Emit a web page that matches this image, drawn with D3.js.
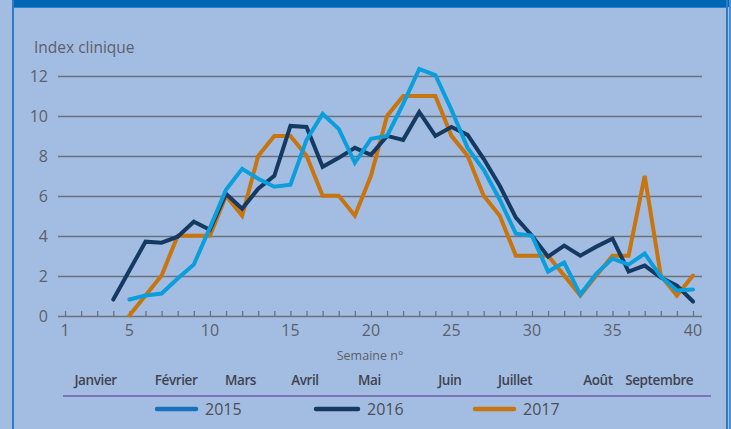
<!DOCTYPE html>
<html>
<head>
<meta charset="utf-8">
<script src="https://cdn.jsdelivr.net/npm/d3@7"></script>
<style>
    body { margin: 0; background: #a3bde2; }
    svg { display: block; font-family: "Open Sans", "Noto Sans", sans-serif; }
</style>
</head>
<body>
<div id="chart"></div>
<script>

// semaines 1 a 40, null = pas de donnee
var weeks = d3.range(1, 41);
var yTicks = [0, 2, 4, 6, 8, 10, 12];
var xTickLabels = [1, 5, 10, 15, 20, 25, 30, 35, 40];

var months = ["Janvier", "Février", "Mars", "Avril", "Mai", "Juin", "Juillet", "Août", "Septembre"];
var monthWeeks = [2.9, 7.9, 11.9, 15.9, 19.9, 24.9, 28.95, 34.1, 37.9];

var years = ["2015", "2016", "2017"];

var values2015 = [null, null, null, null,
    0.8, 1.0, 1.1, 1.85, 2.55, 4.4, 6.3, 7.35, 6.85, 6.45, 6.55, 8.8, 10.1, 9.35, 7.65, 8.85,
    9.0, 10.6, 12.35, 12.05, 10.3, 8.4, 7.3, 5.8, 4.1, 4.0, 2.2, 2.65, 1.05, 2.1, 2.85, 2.55,
    3.1, 1.95, 1.25, 1.3];
var values2016 = [null, null, null,
    0.8, 2.25, 3.7, 3.65, 3.95, 4.7, 4.3, 6.1, 5.35, 6.35, 7.0, 9.5, 9.45, 7.45, 7.9, 8.4, 8.05,
    9.0, 8.8, 10.2, 9.0, 9.45, 9.05, 7.85, 6.5, 4.9, 4.0, 2.95, 3.5, 3.0, 3.45, 3.85, 2.2,
    2.5, 1.9, 1.5, 0.7];
var values2017 = [null, null, null, null,
    0, 1, 2, 4, 4, 4, 6, 5, 8, 9, 9, 8, 6, 6, 5, 7,
    10, 11, 11, 11, 9, 8, 6, 5, 3, 3, 3, 2, 1, 2, 3, 3,
    7, 2, 1, 2];

var lineColors = {"2015": "#0b9edb", "2016": "#143a63", "2017": "#c8740f"};
var legendColors = {"2015": "#1a71bb", "2016": "#143a63", "2017": "#c8740f"};

var series = [
    {year: "2017", values: values2017},
    {year: "2016", values: values2016},
    {year: "2015", values: values2015}
];

var W = 731, H = 429;
var textGrey = "#5c606b";

var svg = d3.select("#chart").append("svg")
    .attr("width", W)
    .attr("height", H);

// cadre
svg.append("rect").attr("x", 0).attr("y", 0).attr("width", W).attr("height", H).attr("fill", "#a3bde2");
svg.append("rect").attr("x", 13).attr("y", 0).attr("width", 716).attr("height", 7).attr("fill", "#0067b4");
svg.append("line").attr("x1", 13).attr("x2", 728).attr("y1", 7.5).attr("y2", 7.5)
    .style("stroke", "#2f80cb").style("stroke-width", 1);
svg.append("line").attr("x1", 13).attr("x2", 13).attr("y1", 0).attr("y2", H)
    .style("stroke", "#2b7cc6").style("stroke-width", 2);
svg.append("line").attr("x1", 727).attr("x2", 727).attr("y1", 0).attr("y2", H)
    .style("stroke", "#2b7cc6").style("stroke-width", 2);
svg.append("rect").attr("x", 729).attr("y", 0).attr("width", 2).attr("height", H).attr("fill", "#4d8fd1");

var x = d3.scaleLinear()
    .domain([1, 40])
    .range([65, 693]);

var y = d3.scaleLinear()
    .domain([0, 12])
    .range([315.5, 76]);

var plotLeft = 58, plotRight = 702;

// grille
svg.append("g")
    .selectAll("line")
    .data(yTicks.filter(function (d) { return d > 0; }))
    .enter().append("line")
    .attr("x1", plotLeft)
    .attr("x2", plotRight)
    .attr("y1", function (d) { return Math.round(y(d)) + 0.5; })
    .attr("y2", function (d) { return Math.round(y(d)) + 0.5; })
    .style("stroke", "#6c717b")
    .style("stroke-width", 1.3);

svg.append("g")
    .selectAll("text")
    .data(yTicks)
    .enter().append("text")
    .attr("x", 48)
    .attr("y", function (d) { return y(d) + 6; })
    .attr("text-anchor", "end")
    .attr("fill", textGrey)
    .style("font-size", "16px")
    .text(function (d) { return d; });

svg.append("text")
    .attr("x", 34)
    .attr("y", 53)
    .attr("fill", textGrey)
    .style("font-size", "15.5px")
    .text("Index clinique");

// axe des semaines
var xAxis = d3.axisBottom(x)
    .tickValues(weeks)
    .tickSize(-5)
    .tickFormat("");

var gx = svg.append("g")
    .attr("transform", "translate(0," + Math.round(y(0)) + ")")
    .call(xAxis);
gx.select(".domain").remove();
gx.selectAll(".tick line").style("stroke", "#6c717b").style("stroke-width", 1.3);
gx.append("line")
    .attr("x1", plotLeft)
    .attr("x2", plotRight)
    .attr("y1", 0.5)
    .attr("y2", 0.5)
    .style("stroke", "#6c717b")
    .style("stroke-width", 1.5);

svg.append("g")
    .selectAll("text")
    .data(xTickLabels)
    .enter().append("text")
    .attr("x", function (d) { return x(d); })
    .attr("y", 336)
    .attr("text-anchor", "middle")
    .attr("fill", textGrey)
    .style("font-size", "16px")
    .text(function (d) { return d; });

svg.append("text")
    .attr("x", 370)
    .attr("y", 360)
    .attr("text-anchor", "middle")
    .attr("fill", textGrey)
    .style("font-size", "12.5px")
    .text("Semaine n°");

svg.append("g")
    .selectAll("text")
    .data(months)
    .enter().append("text")
    .attr("x", function (d, i) { return x(monthWeeks[i]); })
    .attr("y", 385)
    .attr("text-anchor", "middle")
    .attr("fill", "#3f4350")
    .style("font-size", "13.5px")
    .style("font-weight", 600)
    .style("letter-spacing", "-0.4px")
    .text(function (d) { return d; });

svg.append("line")
    .attr("x1", 63)
    .attr("x2", 711)
    .attr("y1", 396)
    .attr("y2", 396)
    .style("stroke", "#6d5cb2")
    .style("stroke-width", 1.3);

// courbes
var line = d3.line()
    .defined(function (d) { return d != null; })
    .x(function (d, i) { return x(weeks[i]); })
    .y(function (d) { return y(d); });

svg.append("g")
    .selectAll("path")
    .data(series)
    .enter().append("path")
    .attr("d", function (d) { return line(d.values); })
    .style("fill", "none")
    .style("stroke", function (d) { return lineColors[d.year]; })
    .style("stroke-width", 4)
    .style("stroke-linejoin", "miter")
    .style("stroke-linecap", "round");

// legende
var legendX = [157, 316, 475];
var legend = svg.append("g")
    .selectAll("g")
    .data(years)
    .enter().append("g")
    .attr("transform", function (d, i) { return "translate(" + legendX[i] + ",409)"; });

legend.append("line")
    .attr("x1", 0)
    .attr("x2", function (d, i) { return i == 1 ? 42 : 39; })
    .attr("y1", 0)
    .attr("y2", 0)
    .style("stroke", function (d) { return legendColors[d]; })
    .style("stroke-width", 4.5)
    .style("stroke-linecap", "round");

legend.append("text")
    .attr("x", function (d, i) { return i == 1 ? 51 : 48; })
    .attr("y", 6)
    .attr("fill", "#4b4e58")
    .style("font-size", "16px")
    .text(function (d) { return d; });

</script>
</body>
</html>
